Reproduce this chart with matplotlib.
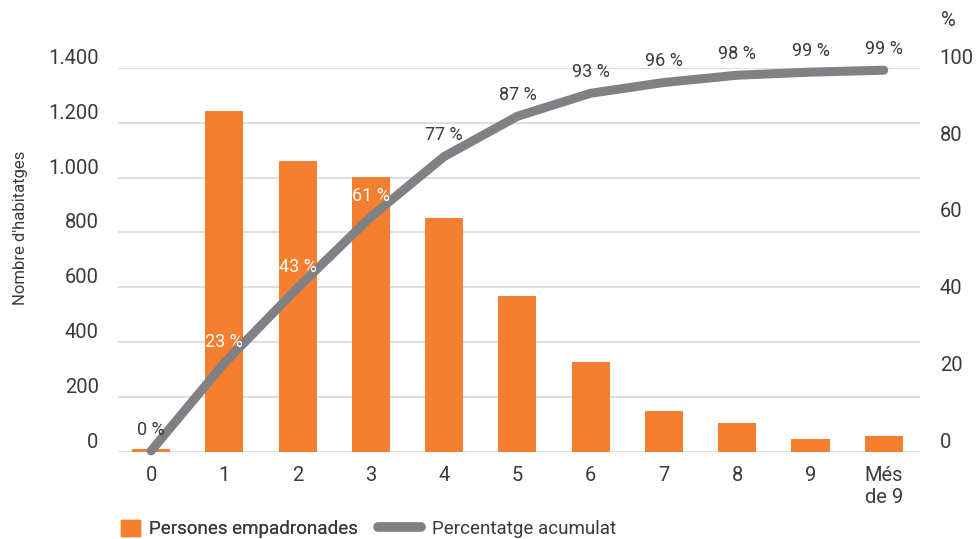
import matplotlib.pyplot as plt
from matplotlib.patches import Patch
from matplotlib.lines import Line2D
import numpy as np

plt.rcParams['font.family'] = ['Roboto', 'DejaVu Sans']

# Dades
categories = ['0', '1', '2', '3', '4', '5', '6', '7', '8', '9', 'Més\nde 9']
persones = [10, 1242, 1060, 1001, 851, 567, 327, 148, 105, 46, 57]
percentatge = [0.2, 23.1, 42.7, 61.2, 76.9, 87.4, 93.4, 96.2, 98.1, 98.9, 99.4]

orange = '#F47F30'
grey = '#808184'
text_col = '#3a3a3a'

fig = plt.figure(figsize=(9.76, 5.39), dpi=100)
ax = fig.add_axes([0.121, 0.162, 0.822, 0.712])
ax2 = ax.twinx()

x = np.arange(len(categories))
ax.bar(x, persones, width=0.52, color=orange, zorder=2)

ax.set_xlim(-0.45, 10.5)
ax.set_ylim(0, 1400)
yt = np.arange(0, 1401, 200)
ax.set_yticks(yt)
ax.set_yticklabels([f'{v:,}'.replace(',', '.') for v in yt])
ax.set_xticks(x)
ax.set_xticklabels(categories)
for v in yt:
    ax.axhline(v, color='#e6d6cc' if v == 1400 else '#d9d9d9', lw=1.2, zorder=1)
for s in ax.spines.values():
    s.set_visible(False)
ax.tick_params(axis='both', length=0, labelsize=14.5, colors=text_col)
ax.tick_params(axis='y', pad=14)
ax.tick_params(axis='x', pad=10)
for lab in ax.get_yticklabels():
    lab.set_verticalalignment('bottom')
ax.set_ylabel("Nombre d'habitatges", fontsize=12, color=text_col)
ax.yaxis.set_label_coords(-0.112, 0.583)

ax2.set_ylim(0, 100)
ax2.set_yticks(np.arange(0, 101, 20))
for s in ax2.spines.values():
    s.set_visible(False)
ax2.tick_params(axis='y', length=0, labelsize=14.5, colors=text_col, pad=14)
for lab in ax2.get_yticklabels():
    lab.set_verticalalignment('bottom')
ax2.plot(x, percentatge, color=grey, lw=6.5, solid_capstyle='round',
         solid_joinstyle='round', zorder=3, clip_on=False)

# Etiquetes de percentatge
for xi, p, b in zip(x, percentatge, persones):
    label_y = p + 5.5
    col = 'white' if label_y * 14 < b else text_col
    ax2.text(xi, label_y, f'{round(p)} %', ha='center', va='center',
             fontsize=13, color=col, zorder=4, clip_on=False)

fig.text(948 / 976, 1 - 20 / 539, '%', ha='center', va='center',
         fontsize=14.5, color=text_col)

leg1 = fig.legend([Patch(color=orange)], ['Persones empadronades'],
                  loc='center left', bbox_to_anchor=(0.107, 1 - 529 / 539),
                  frameon=False, fontsize=13.5, handlelength=1.0,
                  handleheight=1.0, handletextpad=0.5, labelcolor=text_col)
fig.legend([Line2D([0], [0], color=grey, lw=7, solid_capstyle='round')],
           ['Percentatge acumulat'], loc='center left',
           bbox_to_anchor=(0.37, 1 - 529 / 539), frameon=False,
           fontsize=13.5, handlelength=2.3, handletextpad=0.6,
           labelcolor=text_col)
fig.add_artist(leg1)

fig.savefig('out.png', dpi=100)
